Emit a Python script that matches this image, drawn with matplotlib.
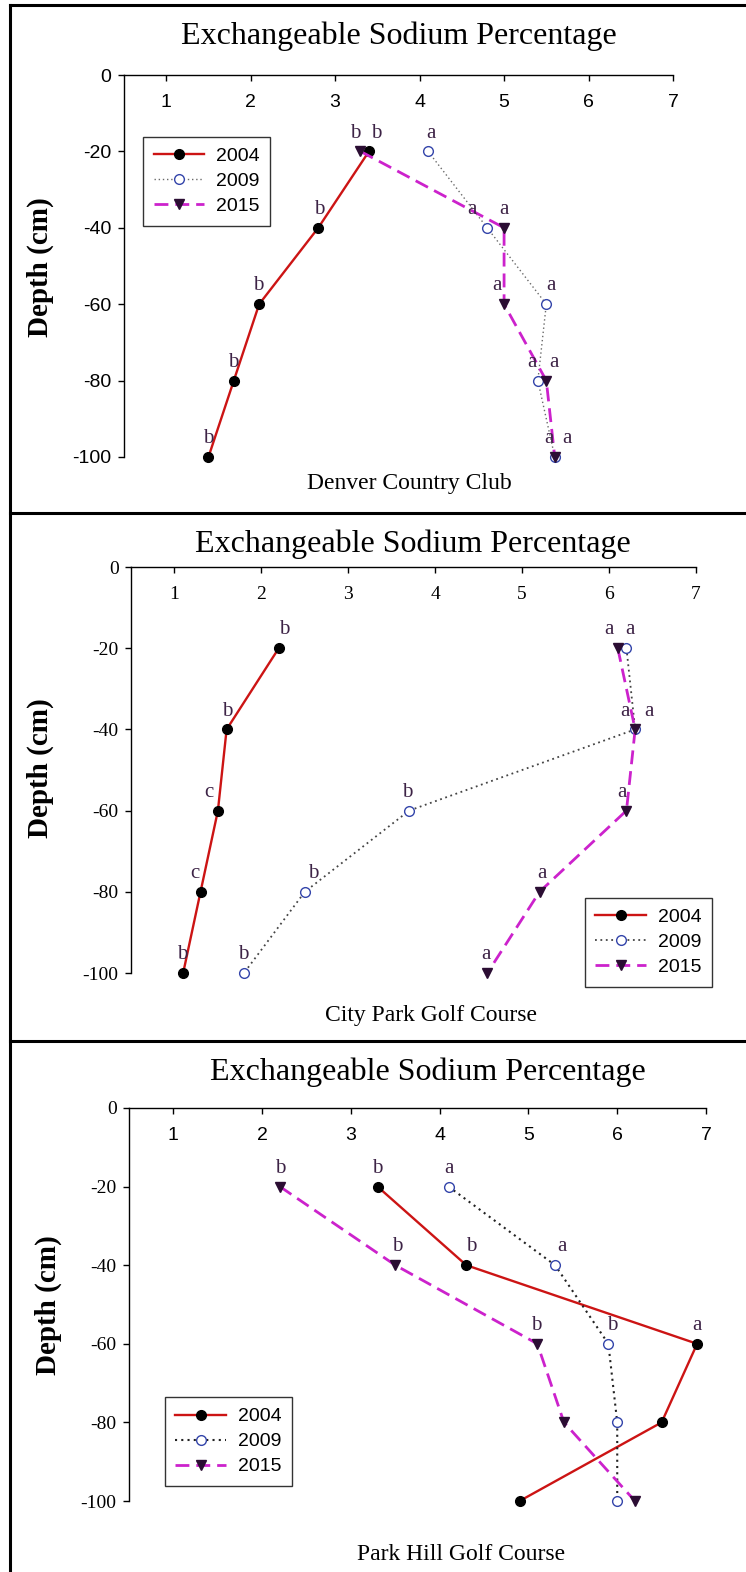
import matplotlib.pyplot as plt
from matplotlib.lines import Line2D

plt.rcParams['axes.unicode_minus'] = False

W, H = 746, 1572

depth = [-20, -40, -60, -80, -100]
years = ['2004', '2009', '2015']
x_ticks = [1, 2, 3, 4, 5, 6, 7]
y_ticks = [0, -20, -40, -60, -80, -100]

# Denver Country Club
dcc_2004 = [3.4, 2.8, 2.1, 1.8, 1.5]
dcc_2009 = [4.1, 4.8, 5.5, 5.4, 5.6]
dcc_2015 = [3.3, 5.0, 5.0, 5.5, 5.6]
dcc_let_2004 = ['b', 'b', 'b', 'b', 'b']
dcc_let_2009 = ['a', 'a', 'a', 'a', 'a']
dcc_let_2015 = ['b', 'a', 'a', 'a', 'a']

# City Park Golf Course
cp_2004 = [2.2, 1.6, 1.5, 1.3, 1.1]
cp_2009 = [6.2, 6.3, 3.7, 2.5, 1.8]
cp_2015 = [6.1, 6.3, 6.2, 5.2, 4.6]
cp_let_2004 = ['b', 'b', 'c', 'c', 'b']
cp_let_2009 = ['a', 'a', 'b', 'b', 'b']
cp_let_2015 = ['a', 'a', 'a', 'a', 'a']

# Park Hill Golf Course
ph_2004 = [3.3, 4.3, 6.9, 6.5, 4.9]
ph_2009 = [4.1, 5.3, 5.9, 6.0, 6.0]
ph_2015 = [2.2, 3.5, 5.1, 5.4, 6.2]
ph_let_2004 = ['b', 'b', 'a', '', '']
ph_let_2009 = ['a', 'a', 'b', '', '']
ph_let_2015 = ['b', 'b', 'b', '', '']

SERIF = 'Liberation Serif'
SANS = 'Liberation Sans'
LETTER_COLOR = '#3d2346'


def px_rect(left, top, right, bottom):
    return [left / W, 1 - bottom / H, (right - left) / W, (bottom - top) / H]


def fx(px):
    return px / W


def fy(py):
    return 1 - py / H


# letter nudges (pixels) so the significance letters don't collide
panels = [
    dict(name='Denver Country Club',
         series=[dcc_2004, dcc_2009, dcc_2015],
         letters=[dcc_let_2004, dcc_let_2009, dcc_let_2015],
         nudge=[[7, 1, -1, -1, 0], [3, -15, 5, -6, -6], [-5, 0, -7, 8, 12]],
         rect=(124, 75, 673, 457), title_xy=(399, 36), xlabel_xy=(409, 483),
         ylabel_xy=(40, 267), xfont=SANS, yfont=SANS, dot_color='#6a6a6a',
         dot_lw=1.0, leg=dict(loc='upper left', bbox_to_anchor=(0.035, 0.838))),
    dict(name='City Park Golf Course',
         series=[cp_2004, cp_2009, cp_2015],
         letters=[cp_let_2004, cp_let_2009, cp_let_2015],
         nudge=[[5, 1, -9, -6, -1], [3, 14, -2, 8, -1], [-9, -10, -5, 2, -1]],
         rect=(131, 567, 696, 973), title_xy=(413, 544), xlabel_xy=(431, 1016),
         ylabel_xy=(40, 768), xfont=SERIF, yfont=SERIF, dot_color='#444444',
         dot_lw=1.3, leg=dict(loc='lower right', bbox_to_anchor=(1.028, -0.034))),
    dict(name='Park Hill Golf Course',
         series=[ph_2004, ph_2009, ph_2015],
         letters=[ph_let_2004, ph_let_2009, ph_let_2015],
         nudge=[[0, 5, 0, 0, 0], [0, 7, 4, 0, 0], [0, 2, -1, 0, 0]],
         rect=(129, 1108, 706, 1501), title_xy=(428, 1072), xlabel_xy=(461, 1554),
         ylabel_xy=(48, 1305), xfont=SANS, yfont=SERIF, dot_color='#222222',
         dot_lw=1.5, leg=dict(loc='lower left', bbox_to_anchor=(0.062, 0.038))),
]

fig = plt.figure(figsize=(W / 100, H / 100), dpi=100)

# panel frames
frame_kw = dict(color='black', lw=2.2, transform=fig.transFigure)
fig.add_artist(Line2D([fx(10), fx(10)], [fy(5), 0], **frame_kw))
fig.add_artist(Line2D([fx(10), 1], [fy(5), fy(5)], **frame_kw))
fig.add_artist(Line2D([fx(10), 1], [fy(513), fy(513)], **frame_kw))
fig.add_artist(Line2D([fx(10), 1], [fy(1041), fy(1041)], **frame_kw))

for p in panels:
    ax = fig.add_axes(px_rect(*p['rect']))
    s04, s09, s15 = p['series']

    styles = [
        dict(color='#cc1414', lw=1.7, ls='-', marker='o', ms=7,
             mfc='black', mec='black'),
        dict(color=p['dot_color'], lw=p['dot_lw'], ls=(0, (1, 2)), marker='o',
             ms=7, mfc='white', mec='#3344aa', mew=1.0),
        dict(color='#cc22cc', lw=2.0, ls=(0, (5, 2.5)), marker='v', ms=7,
             mfc='#2b0d33', mec='#2b0d33'),
    ]
    for vals, yr, st in zip([s04, s09, s15], years, styles):
        ax.plot(vals, depth, label=yr, clip_on=False, zorder=3, **st)

    for vals, lets, nd in zip([s04, s09, s15], p['letters'], p['nudge']):
        for x, d, t, dx in zip(vals, depth, lets, nd):
            if t:
                ax.annotate(t, xy=(x, d), xytext=(dx * 0.72, 10),
                            textcoords='offset points', ha='center',
                            va='baseline', fontsize=15, family=SERIF,
                            color=LETTER_COLOR, annotation_clip=False)

    ax.set_xlim(0.5, 7)
    ax.set_ylim(-100, 0)
    ax.spines['right'].set_visible(False)
    ax.spines['bottom'].set_visible(False)
    ax.spines['left'].set_bounds(-100, 0)
    for sp in ('left', 'top'):
        ax.spines[sp].set_linewidth(1.0)

    ax.xaxis.set_ticks_position('top')
    ax.set_xticks(x_ticks)
    ax.set_xticklabels([str(v) for v in x_ticks], family=p['xfont'], fontsize=14)
    ax.tick_params(axis='x', direction='in', length=4.5, width=1, pad=-26)
    ax.set_yticks(y_ticks)
    ax.set_yticklabels([str(v) for v in y_ticks], family=p['yfont'], fontsize=14)
    ax.tick_params(axis='y', direction='out', length=4, width=1, pad=5)

    leg = ax.legend(frameon=True, fancybox=False,
                    handlelength=2.6, handletextpad=0.6, labelspacing=0.38,
                    borderpad=0.55, borderaxespad=0,
                    prop={'family': SANS, 'size': 14}, **p['leg'])
    leg.get_frame().set_edgecolor('black')
    leg.get_frame().set_linewidth(1.0)

    fig.text(fx(p['title_xy'][0]), fy(p['title_xy'][1]),
             'Exchangeable Sodium Percentage', ha='center', va='center',
             family=SERIF, fontsize=23)
    fig.text(fx(p['xlabel_xy'][0]), fy(p['xlabel_xy'][1]), p['name'],
             ha='center', va='center', family=SERIF, fontsize=17)
    fig.text(fx(p['ylabel_xy'][0]), fy(p['ylabel_xy'][1]), 'Depth (cm)',
             ha='center', va='center', rotation=90, family=SERIF,
             fontweight='bold', fontsize=21)

fig.savefig('out.png', dpi=100)
